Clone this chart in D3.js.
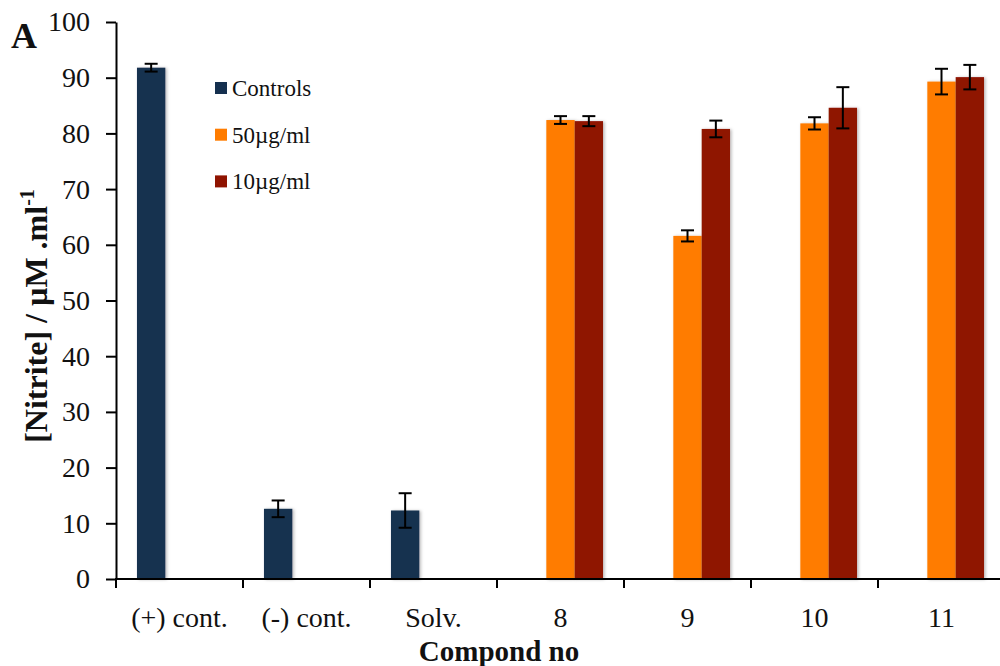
<!DOCTYPE html>
<html>
<head>
<meta charset="utf-8">
<script src="https://cdn.jsdelivr.net/npm/d3@7"></script>
<style>
  html, body { margin: 0; padding: 0; background: #fff; }
  svg { display: block; font-family: "Liberation Serif", "Times New Roman", serif; }
</style>
</head>
<body>
<svg id="chart" width="1000" height="666"></svg>
<script>
// Nitrite concentration per compound
const categories = ["(+) cont.", "(-) cont.", "Solv.", "8", "9", "10", "11"];
const seriesNames = ["Controls", "50µg/ml", "10µg/ml"];
const seriesColors = ["#15304f", "#ff7c00", "#8f1300"];

const controls    = [91.8, 12.6, 12.3, null, null, null, null];
const controlsErr = [0.7, 1.5, 3.1, null, null, null, null];
const conc50      = [null, null, null, 82.4, 61.6, 81.8, 89.3];
const conc50Err   = [null, null, null, 0.7, 1.0, 1.1, 2.3];
const conc10      = [null, null, null, 82.2, 80.8, 84.6, 90.1];
const conc10Err   = [null, null, null, 0.9, 1.5, 3.7, 2.2];

const yTicks = [0, 10, 20, 30, 40, 50, 60, 70, 80, 90, 100];

const seriesValues = [controls, conc50, conc10];
const seriesErrors = [controlsErr, conc50Err, conc10Err];

const FONT = "Liberation Serif, Times New Roman, serif";
const svg = d3.select("#chart");

const x0 = d3.scaleBand().domain(categories).range([116, 1005]).paddingInner(0).paddingOuter(0);
const x1 = d3.scaleBand().domain(seriesNames).range([0, x0.bandwidth()]).paddingInner(0).paddingOuter(0.74);
const y = d3.scaleLinear().domain([0, 100]).range([579, 22]);

const defs = svg.append("defs");
const shadow = defs.append("filter").attr("id", "barShadow")
  .attr("x", "-20%").attr("y", "-5%").attr("width", "140%").attr("height", "110%");
shadow.append("feDropShadow").attr("dx", 1.5).attr("dy", 0.5)
  .attr("stdDeviation", 1.5).attr("flood-color", "#000").attr("flood-opacity", 0.28);

// bars
const bars = [];
seriesNames.forEach((s, si) => {
  categories.forEach((c, ci) => {
    const v = seriesValues[si][ci];
    if (v == null) return;
    bars.push({ cat: c, series: s, si, value: v, err: seriesErrors[si][ci] });
  });
});

svg.append("g").selectAll("rect").data(bars).join("rect")
  .attr("x", d => x0(d.cat) + x1(d.series))
  .attr("width", x1.bandwidth())
  .attr("y", d => y(d.value))
  .attr("height", d => y(0) - y(d.value))
  .attr("fill", d => seriesColors[d.si])
  .attr("filter", "url(#barShadow)");

// error bars
const eg = svg.append("g").attr("stroke", "#000").attr("stroke-width", 2);
bars.forEach(d => {
  const cx = x0(d.cat) + x1(d.series) + x1.bandwidth() / 2;
  const top = y(d.value + d.err), bot = y(d.value - d.err);
  eg.append("line").attr("x1", cx).attr("x2", cx).attr("y1", top).attr("y2", bot);
  eg.append("line").attr("x1", cx - 6.5).attr("x2", cx + 6.5).attr("y1", top).attr("y2", top);
  eg.append("line").attr("x1", cx - 6.5).attr("x2", cx + 6.5).attr("y1", bot).attr("y2", bot);
});

// y axis
const yAxis = svg.append("g").attr("transform", "translate(116,0)")
  .call(d3.axisLeft(y).tickValues(yTicks).tickSize(10).tickSizeOuter(0).tickPadding(16));
yAxis.attr("font-family", FONT);
yAxis.select(".domain").attr("stroke-width", 2);
yAxis.selectAll(".tick line").attr("stroke-width", 2);
yAxis.selectAll(".tick text").attr("font-size", 28).attr("fill", "#111");

// x axis
const xg = svg.append("g").attr("transform", "translate(0,579)");
xg.append("line").attr("x1", 115).attr("x2", 1005).attr("y1", 0).attr("y2", 0)
  .attr("stroke", "#000").attr("stroke-width", 2);
xg.selectAll("line.tk").data(categories).join("line").attr("class", "tk")
  .attr("x1", d => x0(d)).attr("x2", d => x0(d)).attr("y1", 0).attr("y2", 9)
  .attr("stroke", "#000").attr("stroke-width", 2);
xg.selectAll("text").data(categories).join("text")
  .attr("x", d => x0(d) + x0.bandwidth() / 2).attr("y", 48)
  .attr("text-anchor", "middle").attr("font-size", 28).attr("fill", "#111")
  .text(d => d);

// axis titles
svg.append("text").attr("x", 499).attr("y", 661).attr("text-anchor", "middle")
  .attr("font-size", 29).attr("font-weight", "bold").attr("fill", "#111").text("Compond no");

const yt = svg.append("text").attr("transform", "translate(47,316) rotate(-90)")
  .attr("text-anchor", "middle").attr("font-size", 32).attr("font-weight", "bold").attr("fill", "#111");
yt.append("tspan").text("[Nitrite] / µM .ml");
yt.append("tspan").attr("font-size", 20).attr("dy", -13).text("-1");

// panel letter
svg.append("text").attr("x", 11).attr("y", 48).attr("font-size", 36).attr("font-weight", "bold")
  .attr("fill", "#111").text("A");

// legend
const lg = svg.append("g").attr("transform", "translate(215,88)");
seriesNames.forEach((s, i) => {
  const row = lg.append("g").attr("transform", `translate(0,${i * 46.7})`);
  row.append("rect").attr("x", 0).attr("y", -6).attr("width", 12).attr("height", 12)
    .attr("fill", seriesColors[i]);
  row.append("text").attr("x", 17).attr("y", 0).attr("dy", "0.35em")
    .attr("font-size", 23).attr("fill", "#111").text(s);
});
</script>
</body>
</html>
